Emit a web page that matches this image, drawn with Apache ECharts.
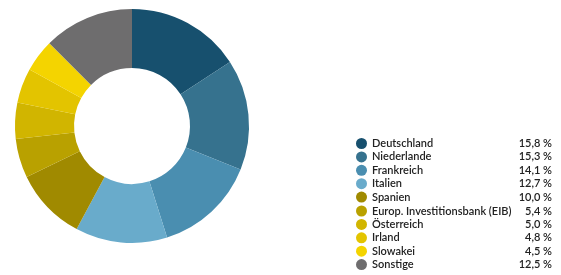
<!DOCTYPE html>
<html>
<head>
<meta charset="utf-8">
<script src="https://cdn.jsdelivr.net/npm/echarts@6/dist/echarts.min.js"></script>
<style>
  html, body { margin: 0; padding: 0; background: #fff; }
  #chart { width: 561px; height: 275px; }
</style>
</head>
<body>
<div id="chart"></div>
<script>
  // Länder und Anteile (%)
  const categories = ['Deutschland', 'Niederlande', 'Frankreich', 'Italien', 'Spanien',
    'Europ. Investitionsbank (EIB)', 'Österreich', 'Irland', 'Slowakei', 'Sonstige']
  const values = [15.8, 15.3, 14.1, 12.7, 10.0, 5.4, 5.0, 4.8, 4.5, 12.5]
  const colors = ['#17506e', '#36728e', '#4a8eb0', '#69abcb', '#a08a00',
    '#b9a100', '#d1b500', '#e3c400', '#f4d400', '#6e6d6e']

  const myChart = echarts.init(document.getElementById('chart'))

  const fmt = v => v.toFixed(1).replace('.', ',') + ' %'

  // Legende in zwei Blöcken, damit sie nicht umbricht
  const legendBase = {
    type: 'plain',
    orient: 'vertical',
    left: 356,
    padding: 0,
    itemWidth: 11,
    itemHeight: 11,
    itemGap: 2.4,
    icon: 'circle',
    selectedMode: false,
    formatter: function (name) {
      const i = categories.indexOf(name)
      return '{n|' + name + '}{v|' + fmt(values[i]) + '}'
    },
    textStyle: {
      rich: {
        n: { width: 138, fontSize: 11, fontFamily: 'Lato', fontWeight: 600, color: '#222' },
        v: { width: 42, align: 'right', fontSize: 11, fontFamily: 'Lato', fontWeight: 600, color: '#222' }
      }
    }
  }

  const option = {
    color: colors,
    animation: false,
    legend: [
      Object.assign({}, legendBase, { top: 138, data: categories.slice(0, 5) }),
      Object.assign({}, legendBase, { top: 205.5, data: categories.slice(5) })
    ],
    series: [
      {
        type: 'pie',
        center: [132, 126],
        radius: [58, 117],
        startAngle: 90,
        clockwise: true,
        label: { show: false },
        labelLine: { show: false },
        itemStyle: { borderWidth: 0 },
        data: categories.map((c, i) => ({ name: c, value: values[i] }))
      }
    ]
  }
  myChart.setOption(option)
</script>
</body>
</html>
